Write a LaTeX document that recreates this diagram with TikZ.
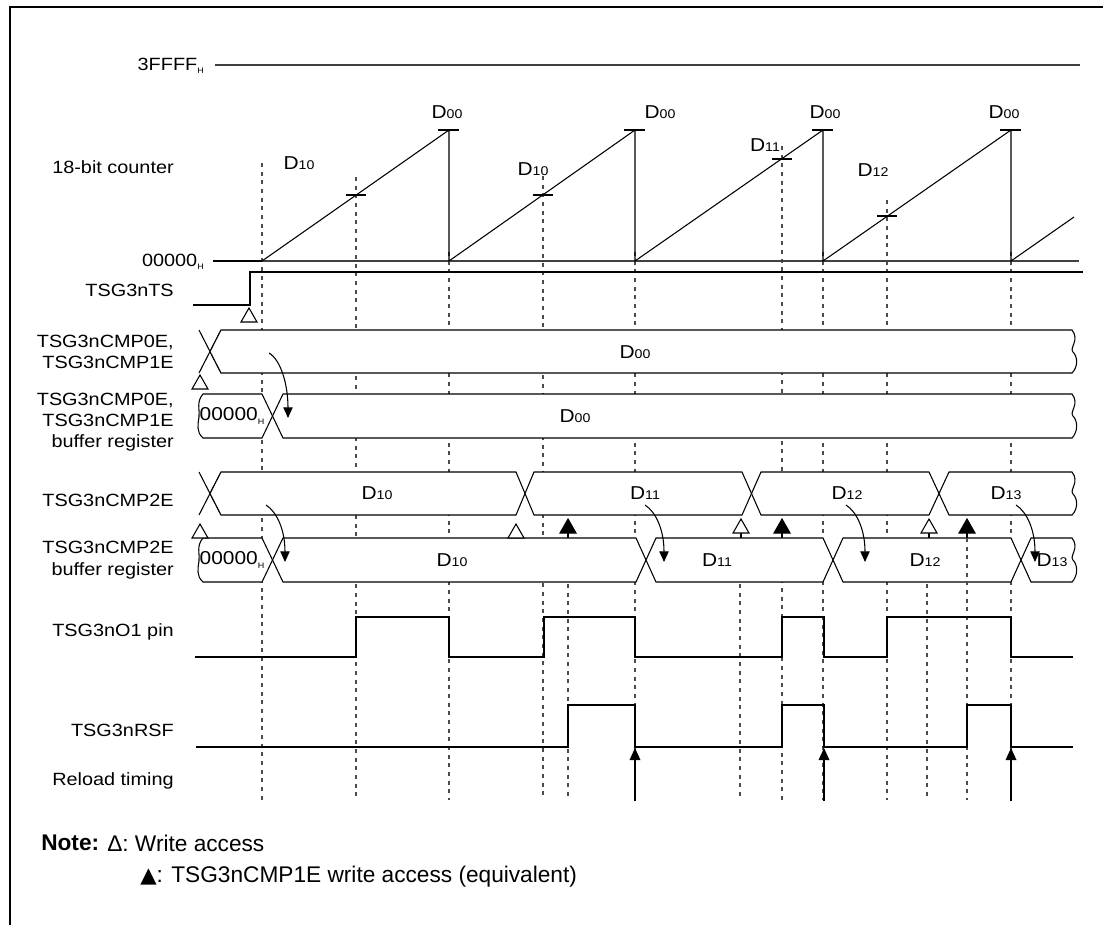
\documentclass[tikz,border=0pt]{standalone}
\usepackage{fontspec}
\setmainfont{Liberation Sans}[FakeStretch=1.12]
\newfontfamily\notefont{Liberation Sans}
\newfontfamily\symfont{DejaVu Sans}
\usetikzlibrary{arrows.meta}
\newcommand\subsm[1]{{\fontsize{9.5}{9.5}\selectfont #1}}
\newcommand\Dv[1]{D\subsm{#1}}
\newcommand\Hs{\raisebox{-2.5pt}{\fontsize{6}{6}\selectfont H}}
\begin{document}
\begin{tikzpicture}[x=0.75pt,y=-0.75pt,
  lbl/.style={anchor=east,inner sep=0pt,font=\fontsize{13.3}{16}\selectfont,align=right},
  val/.style={inner sep=0pt,font=\fontsize{14}{15}\selectfont},
  sig/.style={line width=0.8pt},
  busseg/.style={line width=0.8pt,fill=white},
  guide/.style={line width=0.8pt,black!70,dash pattern=on 3pt off 3.5pt},
  wr/.style={line width=0.8pt,fill=white},
  wrf/.style={line width=0.8pt,fill=black},
  carrow/.style={line width=0.8pt,-{Triangle[length=8pt,width=7pt]}},
  rarrow/.style={line width=0.9pt,-{Triangle[length=9pt,width=8pt]}},
  notetxt/.style={anchor=west,inner sep=0pt,font=\notefont\fontsize{17}{20}\selectfont},
]
\useasboundingbox (0,0) rectangle (1103,925);
% frame
\draw[line width=1.6pt] (10,925) -- (10,7) -- (1103,7);

% vertical guides
\foreach \x/\t in {262/163,356/177,449/252,543/176,635/252,782/146,823/252,887/200,1011/252}
  \draw[guide] (\x,\t) -- (\x,800);
\foreach \x in {568,740,927}
  \draw[guide] (\x,584) -- (\x,800);

% ---------------- counter ----------------
\draw[line width=0.9pt,black!75] (215,65) -- (1080,65);
\draw[line width=0.9pt,black!75] (262,261) -- (1079,261);
\draw[line width=1.8pt] (213,261) -- (262,261);
\draw[sig] (262,261) -- (449,130) -- (449,261) -- (635,130) -- (635,261)
  -- (823,130) -- (823,261) -- (1011,130) -- (1011,261) -- (1074,217);
\foreach \x in {449,635,823,1011}
  \draw[sig] ({\x-11},130) -- ({\x+10},130);
\foreach \x/\y in {356/195,543/195,782/159,887/216}
  \draw[sig] ({\x-10},\y) -- ({\x+10},\y);

\node[lbl] (l3f) at (204,66) {3FFFF\Hs};
\node[lbl] (l0) at (204,262) {00000\Hs};
\node[lbl] (lcnt) at (174,167) {18-bit counter};
\node[val] (c1) at (299,163) {\Dv{10}};
\node[val] (c2) at (447,112) {\Dv{00}};
\node[val] (c3) at (533,169) {\Dv{10}};
\node[val] (c4) at (660,112) {\Dv{00}};
\node[val] (c5) at (765,145) {\Dv{11}};
\node[val] (c6) at (825,112) {\Dv{00}};
\node[val] (c7) at (873,170) {\Dv{12}};
\node[val] (c8) at (1004,112) {\Dv{00}};

% ---------------- TS ----------------
\node[lbl] (lts) at (174,290) {TSG3nTS};
\draw[sig] (193,305) -- (250,305) -- (250,272) -- (1083,272);
\draw[wr] (249,308) -- ++(-8,14) -- ++(16,0) -- cycle;

% ---------------- CMP0E/1E ----------------
\node[lbl] (la) at (174,352) {TSG3nCMP0E,\\TSG3nCMP1E};
\draw[sig] (199,330) -- (221,373) (199,373) -- (221,330);
\draw[busseg] (210,351.5) -- (221,330) -- (1072,330)
  .. controls (1080,340) and (1069,348) .. (1073,352)
  .. controls (1078,357) and (1078,367) .. (1072,373) -- (221,373) -- cycle;
\node[val] (a1) at (635,352) {\Dv{00}};
\draw[wr] (200,375) -- ++(-8,14) -- ++(16,0) -- cycle;

% ---------------- CMP0E/1E buffer ----------------
\node[lbl] (lb) at (174,422) {TSG3nCMP0E,\\TSG3nCMP1E\\buffer register};
\draw[busseg] (203,394) -- (262,394) -- (272.5,416) -- (262,438) -- (203,438)
  .. controls (196,432) and (198,424) .. (199,417)
  .. controls (200,410) and (196,402) .. (203,394) -- cycle;
\draw[busseg] (272.5,416) -- (283,394) -- (1072,394)
  .. controls (1080,404) and (1069,412) .. (1073,416)
  .. controls (1078,421) and (1078,432) .. (1072,438) -- (283,438) -- cycle;
\node[val] (b0) at (232,416) {00000\Hs};
\node[val] (b1) at (575,416) {\Dv{00}};

% ---------------- CMP2E ----------------
\node[lbl] (lc) at (174,500) {TSG3nCMP2E};
\draw[sig] (199,472) -- (221,515) (199,515) -- (221,472);
\draw[busseg] (210,493.5) -- (221,472) -- (516,472) -- (525,493.5) -- (516,515) -- (221,515) -- cycle;
\draw[busseg] (525,493.5) -- (534,472) -- (742,472) -- (751.5,493.5) -- (742,515) -- (534,515) -- cycle;
\draw[busseg] (751.5,493.5) -- (761,472) -- (929,472) -- (939,493.5) -- (929,515) -- (761,515) -- cycle;
\draw[busseg] (939,493.5) -- (949,472) -- (1072,472)
  .. controls (1080,482) and (1069,490) .. (1073,494)
  .. controls (1078,499) and (1078,509) .. (1072,515) -- (949,515) -- cycle;
\node[val] (cc1) at (377,493) {\Dv{10}};
\node[val] (cc2) at (645,493) {\Dv{11}};
\node[val] (cc3) at (847,493) {\Dv{12}};
\node[val] (cc4) at (1006,493) {\Dv{13}};

% ---------------- CMP2E buffer ----------------
\node[lbl] (ld) at (174,560) {TSG3nCMP2E\\buffer register};
\draw[busseg] (203,538) -- (262,538) -- (272.5,560) -- (262,582) -- (203,582)
  .. controls (196,576) and (198,568) .. (199,561)
  .. controls (200,554) and (196,546) .. (203,538) -- cycle;
\draw[busseg] (272.5,560) -- (283,538) -- (636,538) -- (646,560) -- (636,582) -- (283,582) -- cycle;
\draw[busseg] (646,560) -- (656,538) -- (823,538) -- (833,560) -- (823,582) -- (656,582) -- cycle;
\draw[busseg] (833,560) -- (843,538) -- (1011,538) -- (1021,560) -- (1011,582) -- (843,582) -- cycle;
\draw[busseg] (1021,560) -- (1031,538) -- (1072,538)
  .. controls (1080,548) and (1069,556) .. (1073,560)
  .. controls (1078,565) and (1078,576) .. (1072,582) -- (1031,582) -- cycle;
\node[val] (d0) at (232,560) {00000\Hs};
\node[val] (d1) at (452,560) {\Dv{10}};
\node[val] (d2) at (717,560) {\Dv{11}};
\node[val] (d3) at (925,560) {\Dv{12}};
\node[val] (d4) at (1052,560) {\Dv{13}};
\draw[guide] (967,538) -- (967,800);

% write-access marks
\draw[wr] (200,524) -- ++(-8,14) -- ++(16,0) -- cycle;
\draw[wr] (516,524) -- ++(-8,14) -- ++(16,0) -- cycle;
\foreach \x in {741,929} {
  \draw[sig] (\x,533) -- (\x,538);
  \draw[wr] (\x,519) -- ++(-8,14) -- ++(16,0) -- cycle;
}
\foreach \x in {568,782,967} {
  \draw[sig] (\x,533) -- (\x,538);
  \draw[wrf] (\x,519) -- ++(-8,14) -- ++(16,0) -- cycle;
}

% transfer arrows
\coordinate (ta0) at (269,353); \coordinate (ta1) at (288,418);
\draw[carrow] (ta0) .. controls (281,360) and (288,385) .. (ta1);
\foreach \x in {266,645,846,1016} {
  \draw[carrow] (\x,505) .. controls ({\x+11},512) and ({\x+19},530) .. ({\x+19},562);
}

% ---------------- O1 pin ----------------
\node[lbl] (le) at (174,632) {TSG3nO1 pin};
\draw[sig] (195,657) -- (356,657) -- (356,617) -- (449,617) -- (449,657) -- (544,657)
  -- (544,617) -- (635,617) -- (635,657) -- (782,657) -- (782,617) -- (824,617)
  -- (824,657) -- (887,657) -- (887,617) -- (1011,617) -- (1011,657) -- (1073,657);

% ---------------- RSF ----------------
\node[lbl] (lf) at (174,730) {TSG3nRSF};
\draw[sig] (196,747) -- (568,747) -- (568,705) -- (635,705) -- (635,747) -- (782,747)
  -- (782,705) -- (824,705) -- (824,747) -- (967,747) -- (967,705) -- (1011,705)
  -- (1011,747) -- (1073,747);

% ---------------- Reload timing ----------------
\node[lbl] (lg) at (174,781) {Reload timing};
\foreach \x [count=\i] in {635,824,1011} {
  \coordinate (rb\i) at (\x,801);
  \coordinate (rt\i) at (\x,748);
  \draw[rarrow] (rb\i) -- (rt\i);
}

% ---------------- Note ----------------
\node[notetxt,font=\notefont\fontsize{17}{20}\selectfont\bfseries] (note) at (41,843) {Note:};
\node[notetxt] (n1) at (107,843) {Δ: Write access};
\node[notetxt] (n2) at (140,877) {{\symfont\fontsize{16}{16}\selectfont ▲}: TSG3nCMP1E write access (equivalent)};
\end{tikzpicture}
\end{document}
